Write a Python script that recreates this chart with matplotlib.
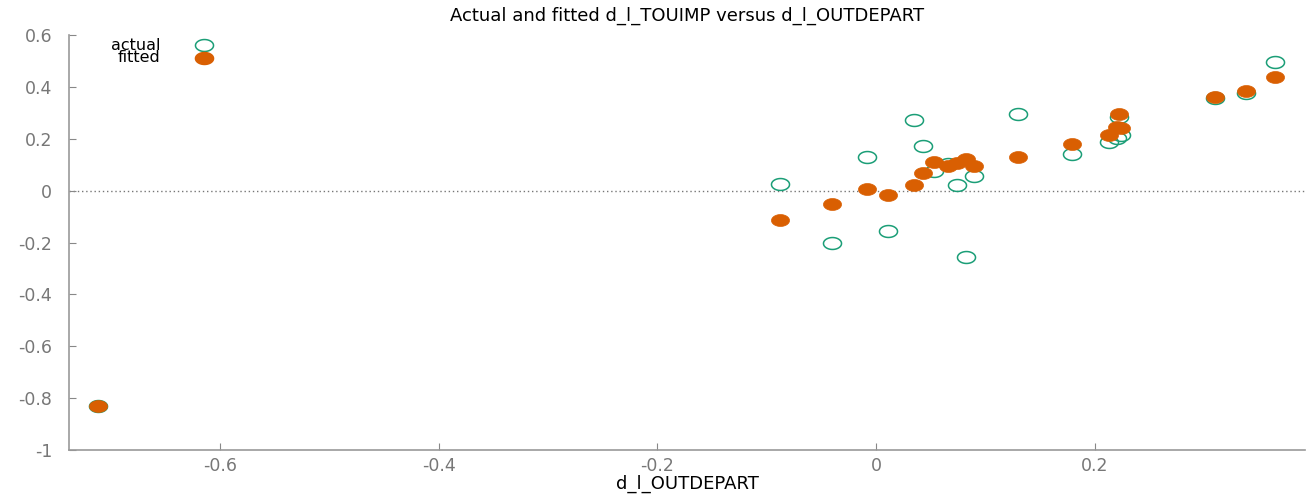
import numpy as np
import matplotlib
matplotlib.use("Agg")
import matplotlib.pyplot as plt
from matplotlib.path import Path

plt.rcParams["axes.unicode_minus"] = False

# x = d_l_OUTDEPART, actual / fitted d_l_TOUIMP
x = [-0.7116, -0.0878, -0.0402, -0.0082, 0.0110, 0.0347, 0.0430, 0.0530, 0.0658,
     0.0741, 0.0823, 0.0896, 0.1299, 0.1793, 0.2131, 0.2204, 0.2241, 0.2222,
     0.3101, 0.3384, 0.3649]
actual = [-0.832, 0.027, -0.200, 0.131, -0.154, 0.274, 0.173, 0.077, 0.104,
          0.023, -0.254, 0.058, 0.297, 0.143, 0.189, 0.204, 0.216, 0.282,
          0.358, 0.378, 0.497]
fitted = [-0.832, -0.112, -0.050, 0.008, -0.015, 0.023, 0.069, 0.112, 0.096,
          0.108, 0.123, 0.096, 0.131, 0.181, 0.216, 0.245, 0.243, 0.297,
          0.362, 0.385, 0.439]

GREEN, ORANGE, GREY = "#1b9e77", "#d95f02", "#888888"

# gnuplot-ish squashed circle marker
t = np.linspace(0, 2 * np.pi, 60)
ell = Path(np.column_stack([np.cos(t), 0.66 * np.sin(t)]), closed=True)

W, H = 1307, 496
fig = plt.figure(figsize=(W / 100, H / 100), dpi=100)
ax = fig.add_axes([69 / W, 1 - 450 / H, (1305 - 69) / W, (450 - 35) / H])

ax.axhline(0, color="#777777", lw=1, ls=(0, (1, 2)), zorder=1)
ax.plot(x, actual, ls="none", marker=ell, ms=13, mfc="none", mec=GREEN, mew=1.1, zorder=3)
ax.plot(x, fitted, ls="none", marker=ell, ms=13, mfc=ORANGE, mec=ORANGE, mew=0.5, zorder=4)

ax.set_xlim(-0.738, 0.392)
ax.set_ylim(-1, 0.6)
ax.set_xticks([-0.6, -0.4, -0.2, 0, 0.2])
ax.set_xticklabels(["-0.6", "-0.4", "-0.2", "0", "0.2"])
ax.set_yticks([-1, -0.8, -0.6, -0.4, -0.2, 0, 0.2, 0.4, 0.6])
ax.set_yticklabels(["-1", "-0.8", "-0.6", "-0.4", "-0.2", "0", "0.2", "0.4", "0.6"])
ax.tick_params(direction="in", length=5, width=0.8, color=GREY, labelcolor="#777777",
               labelsize=12.5)
ax.tick_params(axis="y", pad=12)
ax.tick_params(axis="x", pad=5)
for s in ["top", "right"]:
    ax.spines[s].set_visible(False)
for s in ["left", "bottom"]:
    ax.spines[s].set_color("#999999")
    ax.spines[s].set_linewidth(1.2)

ax.set_title("Actual and fitted d_l_TOUIMP versus d_l_OUTDEPART", fontsize=13, pad=10)
ax.set_xlabel("d_l_OUTDEPART", fontsize=13, labelpad=0)

# key, top-left as in gnuplot
for i, (lab, fc, ec) in enumerate([("actual", "none", GREEN), ("fitted", ORANGE, ORANGE)]):
    yk = 1 - (10 + 13 * i) / 415
    ax.text((160 - 69) / 1236, yk, lab, transform=ax.transAxes, ha="right", va="center",
            fontsize=11.5)
    ax.plot([(204 - 69) / 1236], [yk], transform=ax.transAxes, ls="none", marker=ell, ms=13,
            mfc=fc, mec=ec, mew=1.1, clip_on=False)

fig.savefig("out.png", dpi=100)
